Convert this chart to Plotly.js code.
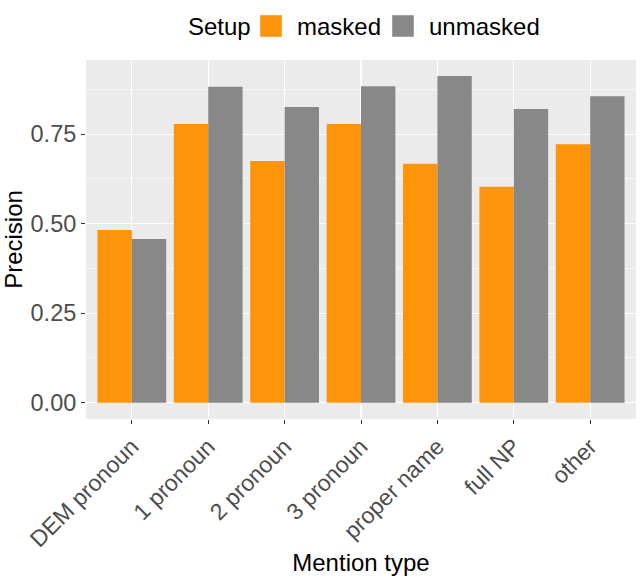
<!DOCTYPE html>
<html>
<head>
<meta charset="utf-8">
<script src="https://cdn.plot.ly/plotly-3.0.1.min.js"></script>
<style>html,body{margin:0;padding:0;background:#fff;}#chart{width:643px;height:580px;}</style>
</head>
<body>
<div id="chart"></div>
<script>
const categories = ["DEM pronoun", "1 pronoun", "2 pronoun", "3 pronoun", "proper name", "full NP", "other"];
const seriesNames = ["masked", "unmasked"];
const maskedValues = [0.482, 0.778, 0.675, 0.778, 0.667, 0.603, 0.722];
const unmaskedValues = [0.457, 0.882, 0.826, 0.884, 0.912, 0.820, 0.856];
const yTickVals = [0, 0.25, 0.5, 0.75];
const yTickText = ["0.00", "0.25", "0.50", "0.75"];
const seriesColors = ["#FE9409", "#888888"];

const font = "Liberation Sans, Arial, sans-serif";
const traces = [
  {type: "bar", name: seriesNames[0], x: categories, y: maskedValues, marker: {color: seriesColors[0]}},
  {type: "bar", name: seriesNames[1], x: categories, y: unmaskedValues, marker: {color: seriesColors[1]}}
];

// ggplot-style legend (large keys) drawn on top in paper coordinates
const W = 550, H = 359; // plot area size in px
function px(x) { return (x - 86) / W; }
function py(y) { return (419 - y) / H; }
const legendKeys = [260, 392];
const legendLabels = [295, 427];
const shapes = legendKeys.map((k, i) => ({
  type: "rect", xref: "paper", yref: "paper",
  x0: px(k), x1: px(k + 22), y0: py(37), y1: py(15),
  fillcolor: seriesColors[i], line: {width: 0.5, color: "#F2F2F2"}, layer: "above"
}));
const annotations = [
  {text: "Setup", x: px(186), y: py(26), xref: "paper", yref: "paper", xanchor: "left", yanchor: "middle", showarrow: false, font: {size: 24, family: font, color: "#000"}}
].concat(seriesNames.map((n, i) => ({
  text: n, x: px(legendLabels[i]), y: py(26), xref: "paper", yref: "paper", xanchor: "left", yanchor: "middle", showarrow: false, font: {size: 24, family: font, color: "#000"}
})));

const layout = {
  width: 643, height: 580,
  margin: {l: 86, r: 7, t: 60, b: 161},
  paper_bgcolor: "#FFFFFF",
  plot_bgcolor: "#EBEBEB",
  barmode: "group",
  bargap: 0.1,
  bargroupgap: 0,
  font: {family: font, color: "#000000"},
  showlegend: false,
  shapes: shapes,
  annotations: annotations,
  xaxis: {
    type: "category",
    range: [-0.6, 6.6],
    tickangle: -45,
    tickfont: {size: 23, family: font, color: "#4D4D4D"},
    ticks: "outside", ticklen: 4, tickcolor: "#333333", tickwidth: 1,
    showgrid: true, gridcolor: "#FFFFFF", gridwidth: 1.2,
    zeroline: false, showline: false,
    title: {text: "Mention type", font: {size: 24, family: font, color: "#000"}, standoff: 3}
  },
  yaxis: {
    range: [-0.0456, 0.957],
    tickvals: yTickVals, ticktext: yTickText,
    tickfont: {size: 23.5, family: font, color: "#4D4D4D"},
    ticks: "outside", ticklen: 4, tickcolor: "#333333", tickwidth: 1,
    showgrid: true, gridcolor: "#FFFFFF", gridwidth: 1.2,
    minor: {tickvals: [0.125, 0.375, 0.625, 0.875], showgrid: true, gridcolor: "#FFFFFF", gridwidth: 0.6, ticks: ""},
    zeroline: false, showline: false,
    title: {text: "Precision", font: {size: 24, family: font, color: "#000"}, standoff: 6}
  }
};
Plotly.newPlot("chart", traces, layout, {displayModeBar: false, staticPlot: true});
</script>
</body>
</html>
